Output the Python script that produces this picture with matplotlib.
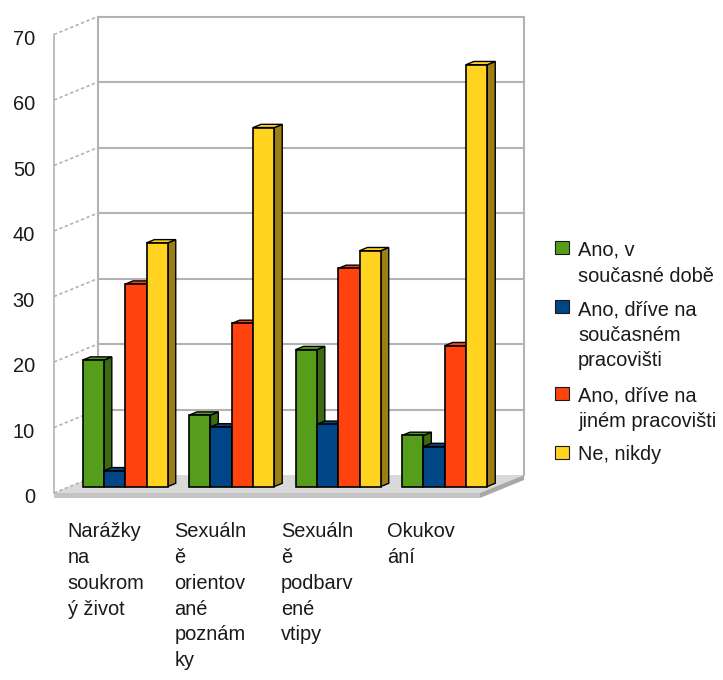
import numpy as np
import matplotlib.pyplot as plt
from matplotlib.patches import Polygon, Rectangle

plt.rcParams['font.family'] = ['Liberation Sans', 'DejaVu Sans']

# data
categories = ['Narážky\nna\nsoukrom\ný život',
              'Sexuáln\ně\norientov\nané\npoznám\nky',
              'Sexuáln\ně\npodbarv\nené\nvtipy',
              'Okukov\nání']
series = ['Ano, v\nsoučasné době',
          'Ano, dříve na\nsoučasném\npracovišti',
          'Ano, dříve na\njiném pracovišti',
          'Ne, nikdy']
green = [19.3, 10.9, 20.9, 7.8]
blue = [2.4, 9.1, 9.5, 6.1]
red = [30.9, 24.9, 33.3, 21.5]
yellow = [37.2, 54.8, 36.0, 64.4]
y_ticks = [0, 10, 20, 30, 40, 50, 60, 70]

values = [green, blue, red, yellow]
front_col = ['#579d1c', '#004586', '#ff420e', '#ffd320']
side_col = ['#3b6a13', '#002d59', '#a82b09', '#9c7f14']

# pseudo-3D geometry (pixels per unit -> data units)
PX_CAT = 106.5
PX_VAL = 6.55
X0_PX, Y0_PX = 54, 493
DX = 44 / PX_CAT
DY = 18 / PX_VAL
ZF, ZB = 0.36, 0.54
W = 0.2
FS = 14.4
LS = 1.45


def P(x, y, z):
    return (x + z * DX, y + z * DY)


fig = plt.figure(figsize=(7.23, 6.8), dpi=100)
ax = fig.add_axes([0, 0, 1, 1])
ax.set_xlim(-X0_PX / PX_CAT, (723 - X0_PX) / PX_CAT)
ax.set_ylim((Y0_PX - 680) / PX_VAL, Y0_PX / PX_VAL)
ax.axis('off')

n = len(categories)
top = y_ticks[-1]
grid_c = '#b3b3b3'

# floor
ax.add_patch(Polygon([P(0, 0, 0), P(n, 0, 0), P(n, 0, 1), P(0, 0, 1)],
                     closed=True, fc='#d9d9d9', ec='none', zorder=1))
slab = 0.76
ax.add_patch(Polygon([P(0, 0, 0), P(n, 0, 0), P(n, -slab, 0), P(0, -slab, 0)],
                     closed=True, fc='#c4c4c4', ec='none', zorder=1))
ax.add_patch(Polygon([P(n, 0, 0), P(n, 0, 1), P(n, -slab, 1), P(n, -slab, 0)],
                     closed=True, fc='#a8a8a8', ec='none', zorder=1))

# back wall grid + left wall
for t in y_ticks:
    a, b = P(0, t, 1), P(n, t, 1)
    if t > 0:
        ax.plot([a[0], b[0]], [a[1], b[1]], color=grid_c, lw=1.5, zorder=2)
    c = P(0, t, 0)
    ax.plot([c[0], a[0]], [c[1], a[1]], color=grid_c, lw=1.2,
            ls=(0, (2, 1.5)), zorder=2)
    ax.text(-0.178, t - 0.7, str(t), ha='right', va='center', fontsize=FS,
            color='#1a1a1a')
for xx in (0, n):
    a, b = P(xx, 0, 1), P(xx, top, 1)
    ax.plot([a[0], b[0]], [a[1], b[1]], color=grid_c, lw=1.5, zorder=2)
a, b = P(0, 0, 0), P(0, top, 0)
ax.plot([a[0], b[0]], [a[1], b[1]], color=grid_c, lw=1.2, zorder=2)

# bars
z = 3
for i in range(n):
    for j in range(len(values)):
        h = values[j][i]
        x0 = i + 0.12 + W * j
        x1 = x0 + W
        ax.add_patch(Polygon([P(x1, 0, ZF), P(x1, 0, ZB), P(x1, h, ZB), P(x1, h, ZF)],
                             closed=True, fc=side_col[j], ec='black', lw=1.0, zorder=z))
        ax.add_patch(Polygon([P(x0, h, ZF), P(x1, h, ZF), P(x1, h, ZB), P(x0, h, ZB)],
                             closed=True, fc=front_col[j], ec='black', lw=1.0, zorder=z + 0.1))
        ax.add_patch(Polygon([P(x0, 0, ZF), P(x1, 0, ZF), P(x1, h, ZF), P(x0, h, ZF)],
                             closed=True, fc=front_col[j], ec='black', lw=1.2, zorder=z + 0.2))
        z += 1

# category labels
for i, lab in enumerate(categories):
    ax.text(i + 0.13, -4.5, lab, ha='left', va='top', fontsize=FS,
            linespacing=LS, color='#1a1a1a')

# legend (pixel coordinates)
lg = fig.add_axes([0, 0, 1, 1])
lg.set_xlim(0, 723)
lg.set_ylim(680, 0)
lg.axis('off')
ly = 240
for j, name in enumerate(series):
    lg.add_patch(Rectangle((555, ly + 1), 14, 13, fc=front_col[j], ec='#1a1a1a',
                           lw=0.8))
    lg.text(578, ly + 1, name, ha='left', va='top', fontsize=FS,
            linespacing=LS, color='#1a1a1a')
    ly += 27.5 * (name.count('\n') + 1) + 4

fig.savefig('out.png', dpi=100)
